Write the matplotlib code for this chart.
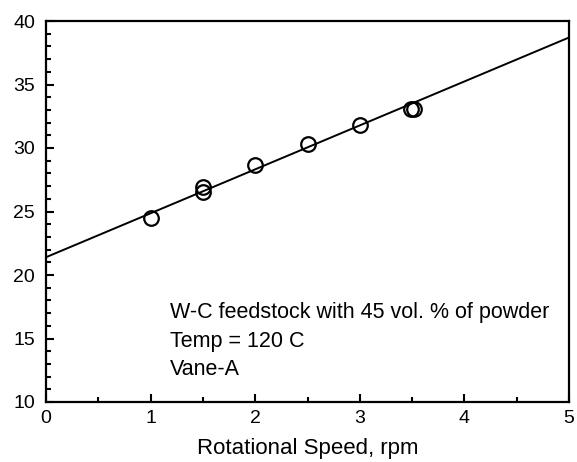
import numpy as np
import matplotlib.pyplot as plt
from matplotlib.ticker import MultipleLocator

plt.rcParams['font.family'] = ['Liberation Sans', 'DejaVu Sans']

# measured points
speed = [1.0, 1.5, 1.5, 2.0, 2.5, 3.0, 3.49, 3.52]
torque = [24.5, 26.9, 26.5, 28.7, 30.3, 31.8, 33.1, 33.1]

# fitted line
fit_x = [0, 5]
fit_y = [21.4, 38.7]

fig = plt.figure(figsize=(5.77, 4.62), dpi=100)
ax = fig.add_axes([46 / 577, 1 - 402 / 462, 523 / 577, 381 / 462])

ax.plot(fit_x, fit_y, color='black', linewidth=1.4)
ax.plot(speed, torque, 'o', markersize=10.5, markerfacecolor='none',
        markeredgecolor='black', markeredgewidth=1.6)

ax.set_xlim(0, 5)
ax.set_ylim(10, 40)
ax.xaxis.set_major_locator(MultipleLocator(1))
ax.xaxis.set_minor_locator(MultipleLocator(0.5))
ax.yaxis.set_major_locator(MultipleLocator(5))
ax.yaxis.set_minor_locator(MultipleLocator(1))
ax.tick_params(which='both', direction='in', top=False, right=False,
               labelsize=14, width=1.5)
ax.tick_params(which='major', length=6)
ax.tick_params(which='minor', length=3.5)
ax.tick_params(axis='y', which='major', pad=8)
ax.tick_params(axis='x', which='major', pad=6)
for s in ax.spines.values():
    s.set_linewidth(1.6)

ax.set_xlabel('Rotational Speed, rpm', fontsize=16, labelpad=8)

ax.text(1.185, 14.8, 'W-C feedstock with 45 vol. % of powder\nTemp = 120 C\nVane-A',
        fontsize=15.5, va='center', ha='left', linespacing=1.45)

fig.savefig('out.png', dpi=100)
